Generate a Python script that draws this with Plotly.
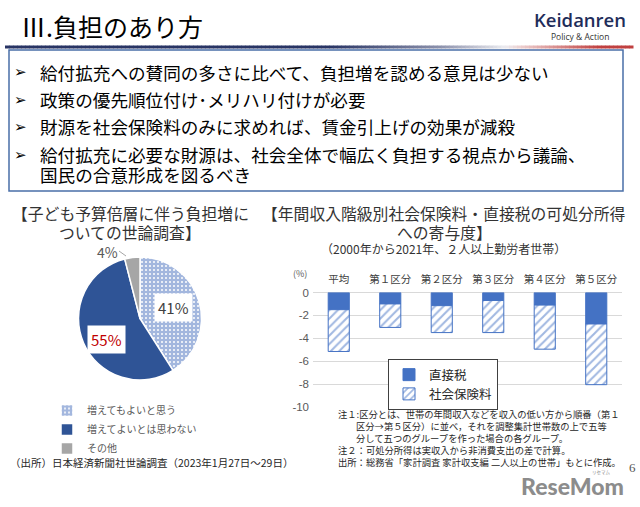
import plotly.graph_objects as go

W, H = 640, 507
JP = "Noto Sans CJK JP"

# ---------------- data ----------------
title_text = "Ⅲ.負担のあり方"
bullets = [
    "給付拡充への賛同の多さに比べて、負担増を認める意見は少ない",
    "政策の優先順位付け･メリハリ付けが必要",
    "財源を社会保険料のみに求めれば、賃金引上げの効果が減殺",
    "給付拡充に必要な財源は、社会全体で幅広く負担する視点から議論、",
    "国民の合意形成を図るべき",
]
bullet_marks = [True, True, True, True, False]

pie_title = ["【子ども予算倍層に伴う負担増に", "ついての世論調査】"]
pie_labels = ["増えてもよいと思う", "増えてよいとは思わない", "その他"]
pie_values = [41, 55, 4]
pie_source = "（出所）日本経済新聞社世論調査（2023年1月27日～29日）"

bar_title = ["【年間収入階級別社会保険料・直接税の可処分所得", "への寄与度】"]
bar_subtitle = "（2000年から2021年、２人以上勤労者世帯）"
categories = ["平均", "第１区分", "第２区分", "第３区分", "第４区分", "第５区分"]
direct_tax = [-1.5, -1.0, -1.15, -0.7, -1.1, -2.75]
social_ins = [-3.65, -2.05, -2.35, -2.8, -3.85, -5.3]
series_names = ["直接税", "社会保険料"]
y_ticks = [0, -2, -4, -6, -8, -10]
notes = [
    ("注１:区分とは、世帯の年間収入などを収入の低い方から順番（第１", 336),
    ("区分→第５区分）に並べ，それを調整集計世帯数の上で五等", 354),
    ("分して五つのグループを作った場合の各グループ。", 354),
    ("注２：可処分所得は実収入から非消費支出の差で計算。", 336),
    ("出所：総務省「家計調査 家計収支編 二人以上の世帯」もとに作成。", 336),
]
page_no = "6"


def px(x):
    return x / W


def py(y):
    return 1 - y / H


fig = go.Figure()

# ---------------- pie ----------------
pie_cols = ["#a3b7de", "#2f5496", "#a6a6a6"]
fig.add_trace(go.Pie(
    labels=pie_labels, values=pie_values, sort=False, direction="clockwise",
    rotation=0, textinfo="none", hoverinfo="label+percent",
    marker=dict(colors=pie_cols,
                line=dict(color="white", width=1.5),
                pattern=dict(shape=[".", "", ""], fgcolor="white",
                             bgcolor=pie_cols, size=4, solidity=0.2)),
    domain=dict(x=[px(78), px(202)], y=[py(380), py(257)]),
    legend="legend2", showlegend=True,
))

# ---------------- bars ----------------
fig.add_trace(go.Bar(
    x=categories, y=direct_tax, name=series_names[0], width=0.41,
    marker=dict(color="#4472c4", line=dict(color="#4472c4", width=1)),
))
fig.add_trace(go.Bar(
    x=categories, y=social_ins, name=series_names[1], width=0.41,
    marker=dict(color="white", line=dict(color="#4472c4", width=1),
                pattern=dict(shape="/", fgcolor="#4472c4", bgcolor="white",
                             size=6, solidity=0.35)),
))

fig.update_layout(
    width=W, height=H, margin=dict(l=0, r=0, t=0, b=0),
    paper_bgcolor="white", plot_bgcolor="white",
    barmode="relative", bargap=0.59,
    font=dict(family=JP, color="#404040"),
    xaxis=dict(domain=[px(313), px(622)], side="top", showgrid=False,
               showline=False, zeroline=False, ticks="",
               tickfont=dict(size=10.5, color="#404040"),
               ticklabelstandoff=6, automargin=False, fixedrange=True),
    yaxis=dict(domain=[py(407), py(292.5)], range=[-10, 0],
               tickvals=y_ticks, ticktext=[str(v) for v in y_ticks],
               showgrid=True, gridcolor="#d9d9d9", gridwidth=1,
               zeroline=True, zerolinecolor="#d9d9d9", zerolinewidth=1,
               showline=False, ticks="", ticklabelstandoff=3,
               tickfont=dict(size=11.5, color="#595959", family="Liberation Sans"),
               automargin=False, fixedrange=True),
    legend=dict(x=px(388), y=py(359), xanchor="left", yanchor="top",
                bgcolor="white", bordercolor="#404040", borderwidth=1,
                font=dict(size=12.5, color="#262626"), traceorder="normal",
                itemwidth=30, tracegroupgap=0),
    legend2=dict(x=px(47), y=py(396), xanchor="left", yanchor="top",
                 bgcolor="rgba(0,0,0,0)", font=dict(size=10, color="#595959"),
                 traceorder="normal", itemwidth=30),
)

ann = []
shapes = []


def text(x, y, s, size, color="#262626", xanchor="center", **kw):
    fam = kw.pop("family", JP)
    f = dict(size=size, color=color, family=fam)
    if "weight" in kw:
        f["weight"] = kw.pop("weight")
    ann.append(dict(x=px(x), y=py(y), xref="paper", yref="paper", text=s,
                    showarrow=False, xanchor=xanchor, yanchor="middle",
                    font=f, **kw))


# header
text(19, 26, title_text, 25, color="#000000", xanchor="left")
text(580, 19.5, "Keidanren", 18.5, color="#1f2d5a", family="Open Sans", weight=600)
text(580, 36, "Policy &amp; Action", 8.5, color="#333333", family="Open Sans")

# gradient rule under header (drawn as many short segments)
stops = [(5, (40, 52, 100)), (330, (40, 52, 100)), (440, (140, 145, 172)),
         (505, (236, 236, 240)), (522, (236, 205, 205)), (600, (192, 64, 64)),
         (633, (192, 64, 64))]


def col_at(x):
    for (x0, c0), (x1, c1) in zip(stops[:-1], stops[1:]):
        if x0 <= x <= x1:
            t = (x - x0) / (x1 - x0)
            return "rgb(%d,%d,%d)" % tuple(round(a + (b - a) * t) for a, b in zip(c0, c1))
    return "rgb(192,64,64)"


step = 4
xx = 5
while xx < 633:
    x2 = min(xx + step, 633)
    shapes.append(dict(type="line", xref="paper", yref="paper",
                       x0=px(xx), x1=px(x2 + 0.5), y0=py(47), y1=py(47),
                       line=dict(color=col_at((xx + x2) / 2), width=3)))
    xx = x2

# bullet box
shapes.append(dict(type="rect", xref="paper", yref="paper", x0=px(9), x1=px(623),
                   y0=py(191), y1=py(50), line=dict(color="#4a6fa8", width=1.5)))
ys = [72, 99.5, 127, 154.5, 174.5]
for s, mark, y in zip(bullets, bullet_marks, ys):
    if mark:
        text(20, y, "➢", 15, color="#000000", family="DejaVu Sans")
    text(38, y, s, 17.6, color="#000000", xanchor="left")

# pie titles and labels
text(130, 214, pie_title[0], 15.8, color="#333333")
text(130, 232.5, pie_title[1], 15.8, color="#333333")
text(173, 307, f"{pie_values[0]}%", 15, color="#404040", bgcolor="white", borderpad=3)
text(106, 339, f"{pie_values[1]}%", 15, color="#c00000", bgcolor="white", borderpad=3)
text(107, 252, f"{pie_values[2]}%", 14, color="#595959")
shapes.append(dict(type="line", xref="paper", yref="paper", x0=px(119), x1=px(126),
                   y0=py(251), y1=py(256), line=dict(color="#a6a6a6", width=1)))
text(151, 462, pie_source, 10.5, color="#262626")

# bar titles
text(444, 214, bar_title[0], 15.8, color="#333333")
text(444, 232.5, bar_title[1], 15.8, color="#333333")
text(443, 248.5, bar_subtitle, 12, color="#333333")
text(300, 273, "(%)", 9, color="#595959")
note_ys = [414, 426, 438, 450, 462]
for (s, x0), y in zip(notes, note_ys):
    text(x0, y, s, 9.3, color="#262626", xanchor="left")

# page number and watermark
text(632, 467, page_no, 13, color="#555555", family="Liberation Serif")
text(572, 486, "ReseMom", 23, color="#8c8c8c", family="Lato", weight=900)
text(601, 472, "リセマム", 4.5, color="#8c8c8c")

fig.update_layout(annotations=ann, shapes=shapes)
fig.write_html("out.html")
